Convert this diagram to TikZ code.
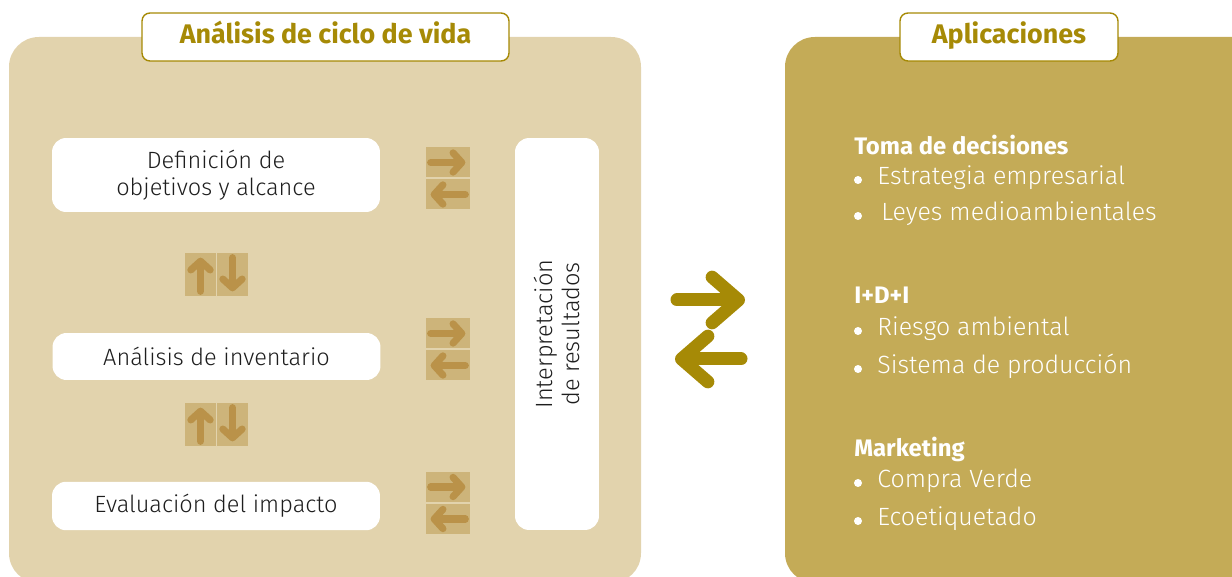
\documentclass[tikz,border=0pt]{standalone}
\usepackage{fontspec}
\setmainfont{Fira Sans Light}[BoldFont={Fira Sans Bold}]
\usetikzlibrary{arrows.meta}
\definecolor{panelA}{HTML}{E2D3AD}
\definecolor{panelB}{HTML}{C4AB57}
\definecolor{oro}{HTML}{A68A06}
\definecolor{baldosa}{HTML}{CDB47A}
\definecolor{flecha}{HTML}{BA9249}
\definecolor{tinta}{HTML}{1E1E1E}

\begin{document}
\begin{tikzpicture}[x=0.02cm, y=-0.02cm,
  panel/.style={rounded corners=17pt},
  titulo/.style={draw=oro, line width=0.8pt, fill=white, rounded corners=4.5pt,
    text=oro, font=\bfseries\fontsize{15.3}{18}\selectfont, minimum height=0.96cm,
    text height=0.69em, text depth=0pt},
  caja/.style={fill=white, rounded corners=8pt, text=tinta, align=center,
    font=\fontsize{13.4}{15.5}\selectfont, minimum width=6.56cm, inner sep=0pt},
  hbaldosa/.style={fill=baldosa, minimum width=0.88cm, minimum height=0.6cm, inner sep=0pt},
  vbaldosa/.style={fill=baldosa, minimum width=0.62cm, minimum height=0.86cm, inner sep=0pt},
  flechita/.style={draw=flecha, line width=4pt, line cap=round,
    -{Straight Barb[round, length=5pt, width=11pt]}},
  flechon/.style={draw=oro, line width=7.4pt, line cap=round,
    -{Straight Barb[round, length=15pt, width=26pt]}},
  cabecera/.style={anchor=base west, text=white, font=\bfseries\fontsize{13.6}{16}\selectfont, inner sep=0pt},
  punto/.style={anchor=base west, text=white, font=\fontsize{14.2}{16}\selectfont, inner sep=0pt}
]
\path[use as bounding box, clip] (0,0) rectangle (1232,577);

% paneles
\fill[panelA, panel] (9,37) rectangle (641,583);
\fill[panelB, panel] (785,37) rectangle (1262,583);
\node[titulo, minimum width=7.34cm] (acv) at (325.5,37) {Análisis de ciclo de vida};
\node[titulo, minimum width=4.36cm] (apl) at (1009,37) {Aplicaciones};

% etapas
\node[caja, minimum height=1.48cm] (def) at (216,175) {Definición de\\objetivos y alcance};
\node[caja, minimum height=0.94cm] (inv) at (216.5,356.5) {Análisis de inventario};
\node[caja, minimum height=0.97cm] (eva) at (216,506) {Evaluación del impacto};
\node[caja, rotate=90, minimum width=7.84cm, minimum height=1.68cm] (int) at (557,334)
  {Interpretación\\de resultados};

% flechas entre etapas e interpretacion
\foreach \i/\y in {1/162.5, 2/333.5, 3/487}
{
  \node[hbaldosa] (hd\i) at (448,\y) {};
  \node[hbaldosa] (hi\i) at (448,\y+32) {};
  \draw[flechita] ([xshift=0.1cm]hd\i.west) -- ([xshift=-0.1cm]hd\i.east);
  \draw[flechita] ([xshift=-0.1cm]hi\i.east) -- ([xshift=0.1cm]hi\i.west);
}
\foreach \i/\y in {1/274.5, 2/424.5}
{
  \node[vbaldosa] (vs\i) at (200.5,\y) {};
  \node[vbaldosa] (vb\i) at (232.5,\y) {};
  \draw[flechita] ([yshift=0.1cm]vs\i.south) -- ([yshift=-0.1cm]vs\i.north);
  \draw[flechita] ([yshift=-0.1cm]vb\i.north) -- ([yshift=0.1cm]vb\i.south);
}

% flechas grandes
\coordinate (ida0) at (677,300);
\coordinate (ida1) at (745,300);
\coordinate (vuelta0) at (741,359);
\coordinate (vuelta1) at (675,359);
\draw[flechon] (ida0) -- (ida1);
\draw[flechon] (vuelta0) -- (vuelta1);

% aplicaciones
\node[cabecera] (toma) at (854,155) {Toma de decisiones};
\node[cabecera] (idi) at (854,304) {I+D+I};
\node[cabecera] (mkt) at (854,457) {Marketing};
\foreach \x/\y/\t in {877/185/Estrategia empresarial, 881/221/Leyes medioambientales,
  877/336/Riesgo ambiental, 877/374/Sistema de producción,
  877/488/Compra Verde, 877/526/Ecoetiquetado}
{
  \fill[white] (858,\y-5) circle (0.08cm);
  \node[punto] (it\y) at (\x,\y) {\t};
}
%  \draw[red] (0,0) grid[step=100] (1232,577);
\end{tikzpicture}
\end{document}
